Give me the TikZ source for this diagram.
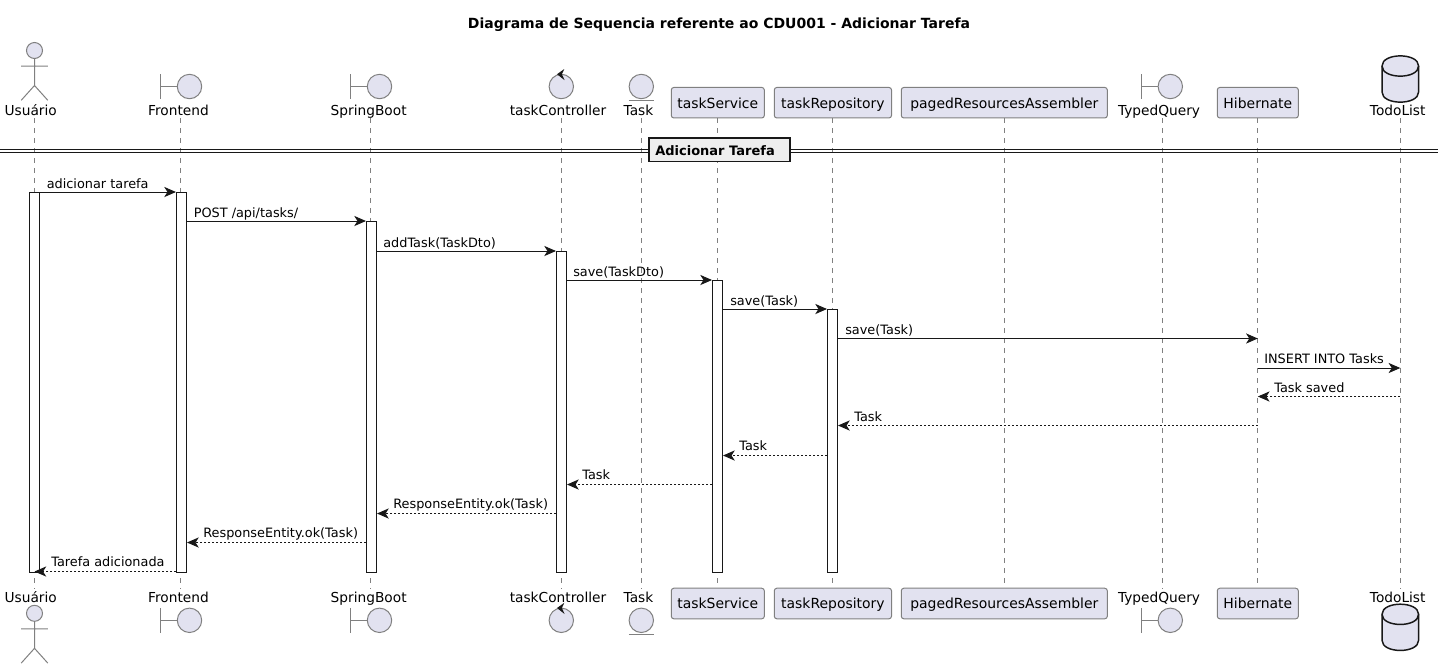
\documentclass[tikz,border=0pt]{standalone}
\usepackage{fontspec}
\setmainfont{DejaVu Sans}
\usetikzlibrary{arrows.meta}
\definecolor{partfill}{HTML}{E2E2F0}
\definecolor{ink}{HTML}{181818}
\definecolor{soft}{HTML}{808080}
\definecolor{divfill}{HTML}{EEEEEE}
\tikzset{
  x=0.75pt,y=-0.75pt,
  title/.style={font=\bfseries\fontsize{10.5pt}{12pt}\selectfont,anchor=base,inner sep=0pt,text=black},
  headlabel/.style={font=\fontsize{10.3pt}{12pt}\selectfont,anchor=base,inner xsep=0pt,inner ysep=0pt,text height=10.5pt,text depth=2.25pt},
  part/.style={draw=soft,fill=partfill,line width=0.75pt,rounded corners=1.9pt,font=\fontsize{10.45pt}{12pt}\selectfont,inner sep=0pt,minimum height=22.9pt,text height=10pt,text depth=2pt},
  icon/.style={draw=soft,fill=partfill,line width=0.75pt},
  iconline/.style={draw=soft,line width=0.75pt},
  db/.style={draw=ink,fill=partfill,line width=1.1pt},
  life/.style={draw=soft,line width=0.75pt,dash pattern=on 3.75pt off 3.75pt},
  bar/.style={draw=ink,fill=white,line width=0.75pt,minimum width=7.5pt,inner sep=0pt,anchor=north},
  msg/.style={draw=ink,line width=0.75pt,-{Stealth[length=8.8pt,width=7.6pt,inset=2.4pt,color=ink]}},
  ret/.style={msg,dash pattern=on 1.5pt off 1.5pt},
  msgtext/.style={font=\fontsize{9.65pt}{12pt}\selectfont,anchor=base west,inner sep=0pt,text=black},
  divbox/.style={draw=ink,fill=divfill,line width=1.1pt,inner sep=0pt,minimum width=105.75pt,minimum height=17.6pt},
  divline/.style={draw=ink,line width=0.75pt},
}
\begin{document}
\begin{tikzpicture}
\useasboundingbox[fill=white] (0,0) rectangle (1444,669);
\node[title] (title) at (719,28) {Diagrama de Sequencia referente ao CDU001 - Adicionar Tarefa};
% lifeline ends
\coordinate (uT) at (34.5,118);   \coordinate (uB) at (34.5,589);
\coordinate (fT) at (180.5,118);  \coordinate (fB) at (180.5,589);
\coordinate (sT) at (370.5,118);  \coordinate (sB) at (370.5,589);
\coordinate (cT) at (561.3,118);  \coordinate (cB) at (561.3,589);
\coordinate (eT) at (641.5,118);  \coordinate (eB) at (641.5,589);
\coordinate (qT) at (1162.3,118); \coordinate (qB) at (1162.3,589);
\coordinate (dT) at (1400.3,118); \coordinate (dB) at (1400.3,589);
% rectangular participants
\node[part,minimum width=69.75pt] (tsT) at (717.8,102.7) {taskService};
\node[part,minimum width=87.9pt] (trT) at (832.9,102.7) {taskRepository};
\node[part,minimum width=154.5pt] (paT) at (1004.3,102.7) {pagedResourcesAssembler};
\node[part,minimum width=60.75pt] (hiT) at (1257.8,102.7) {Hibernate};
\node[part,minimum width=69.75pt] (tsB) at (717.8,603.5) {taskService};
\node[part,minimum width=87.9pt] (trB) at (832.9,603.5) {taskRepository};
\node[part,minimum width=154.5pt] (paB) at (1004.3,603.5) {pagedResourcesAssembler};
\node[part,minimum width=60.75pt] (hiB) at (1257.8,603.5) {Hibernate};
% lifelines
\draw[life] (uT) -- (uB);
\draw[life] (fT) -- (fB);
\draw[life] (sT) -- (sB);
\draw[life] (cT) -- (cB);
\draw[life] (eT) -- (eB);
\draw[life] (tsT.south) -- (tsB.north);
\draw[life] (trT.south) -- (trB.north);
\draw[life] (paT.south) -- (paB.north);
\draw[life] (qT) -- (qB);
\draw[life] (hiT.south) -- (hiB.north);
\draw[life] (dT) -- (dB);
% labels of icon participants
\node[headlabel] (uLT) at (30.7,115) {Usuário};
\node[headlabel] (fLT) at (178.5,115) {Frontend};
\node[headlabel] (sLT) at (368.7,115) {SpringBoot};
\node[headlabel] (cLT) at (558,115) {taskController};
\node[headlabel] (eLT) at (638.5,115) {Task};
\node[headlabel] (qLT) at (1159,115) {TypedQuery};
\node[headlabel] (dLT) at (1397.7,115) {TodoList};
\node[headlabel] (uLB) at (30.7,602.3) {Usuário};
\node[headlabel] (fLB) at (178.5,602.3) {Frontend};
\node[headlabel] (sLB) at (368.7,602.3) {SpringBoot};
\node[headlabel] (cLB) at (558,602.3) {taskController};
\node[headlabel] (eLB) at (638.5,602.3) {Task};
\node[headlabel] (qLB) at (1159,602.3) {TypedQuery};
\node[headlabel] (dLB) at (1397.7,602.3) {TodoList};
% actor
\foreach \dy in {0,562.8}{
  \begin{scope}[yshift=-0.75*\dy pt]
  \draw[icon] (34.5,50.5) circle[radius=8];
  \draw[iconline] (34.5,58.5) -- (34.5,85.5) (21.2,66) -- (47.8,66) (21.2,100.3) -- (34.5,85.5) -- (47.8,100.3);
  \end{scope}
}
% boundaries
\foreach \bx in {160.5,350.5,1141.3}{
  \foreach \by in {86.5,620.3}{
    \draw[iconline] (\bx,\by-12.3) -- (\bx,\by+12.3) (\bx,\by) -- (\bx+17,\by);
    \draw[icon] (\bx+29,\by) circle[radius=12.2];
  }
}
% controller
\foreach \by in {86.5,620.3}{
  \draw[icon] (561.3,\by) circle[radius=12.2];
  \fill[ink] (557,\by-12.3) -- (564.3,\by-17.5) -- (561.9,\by-12.3) -- (564.6,\by-6.3) -- cycle;
}
% entity
\foreach \by in {86.5,620.3}{
  \draw[icon] (641.3,\by) circle[radius=12.2];
  \draw[iconline] (628.8,\by+14) -- (653.8,\by+14);
}
% database
\foreach \dy in {0,548.3}{
  \begin{scope}[yshift=-0.75*\dy pt]
  \draw[db] (1382,66) .. controls (1382,52.5) and (1418.6,52.5) .. (1418.6,66)
     -- (1418.6,92) .. controls (1418.6,105.5) and (1382,105.5) .. (1382,92) -- cycle;
  \draw[db,fill=none] (1382,66) .. controls (1382,79.5) and (1418.6,79.5) .. (1418.6,66);
  \end{scope}
}
% divider
\coordinate (dl) at (0,0); \coordinate (dr) at (1438,0);
\draw[divline] (dl |- 0,149.5) -- (dr |- 0,149.5);
\draw[divline] (dl |- 0,152.5) -- (dr |- 0,152.5);
\node[divbox] (div) at (719.5,149.8) {};
\node[font=\bfseries\fontsize{9.75pt}{12pt}\selectfont,anchor=base west,inner sep=0pt] (divt) at (655,155) {Adicionar Tarefa};
% activations
\node[bar,minimum height=284.8pt] (au) at (34.5,192) {};
\node[bar,minimum height=284.8pt] (af) at (181.5,192) {};
\node[bar,minimum height=263pt] (as) at (371.5,221) {};
\node[bar,minimum height=240.5pt] (ac) at (561.5,251) {};
\node[bar,minimum height=218.8pt] (at) at (717.5,280) {};
\node[bar,minimum height=197pt] (ar) at (832.5,309) {};
% messages
\coordinate (hi) at (hiT.south); \coordinate (db) at (dT);
\draw[msg] (au.east |- 0,192) -- (af.west |- 0,192);
\node[msgtext] (t1) at (46.5,188) {adicionar tarefa};
\draw[msg] (af.east |- 0,221) -- (as.west |- 0,221);
\node[msgtext] (t2) at (193.5,217) {POST /api/tasks/};
\draw[msg] (as.east |- 0,251) -- (ac.west |- 0,251);
\node[msgtext] (t3) at (383,247) {addTask(TaskDto)};
\draw[msg] (ac.east |- 0,280) -- (at.west |- 0,280);
\node[msgtext] (t4) at (573,276) {save(TaskDto)};
\draw[msg] (at.east |- 0,309) -- (ar.west |- 0,309);
\node[msgtext] (t5) at (730,305) {save(Task)};
\draw[msg] (ar.east |- 0,338.5) -- (hi |- 0,338.5);
\node[msgtext] (t6) at (845,334) {save(Task)};
\draw[msg] (hi |- 0,368) -- (db |- 0,368);
\node[msgtext] (t7) at (1264,363.5) {INSERT INTO Tasks};
\draw[ret] (db |- 0,396.5) -- (hi |- 0,396.5);
\node[msgtext] (t8) at (1274,392.5) {Task saved};
\draw[ret] (hi |- 0,425.5) -- (ar.east |- 0,425.5);
\node[msgtext] (t9) at (854,421.5) {Task};
\draw[ret] (ar.west |- 0,455.5) -- (at.east |- 0,455.5);
\node[msgtext] (t10) at (739,450.5) {Task};
\draw[ret] (at.west |- 0,484.5) -- (ac.east |- 0,484.5);
\node[msgtext] (t11) at (582,479.5) {Task};
\draw[ret] (ac.west |- 0,513.5) -- (as.east |- 0,513.5);
\node[msgtext] (t12) at (393,508.5) {ResponseEntity.ok(Task)};
\draw[ret] (as.west |- 0,542.5) -- (af.east |- 0,542.5);
\node[msgtext] (t13) at (203,537.5) {ResponseEntity.ok(Task)};
\draw[ret] (af.west |- 0,571.5) -- (au |- 0,571.5);
\node[msgtext] (t14) at (51,566.5) {Tarefa adicionada};
\end{tikzpicture}
\end{document}
